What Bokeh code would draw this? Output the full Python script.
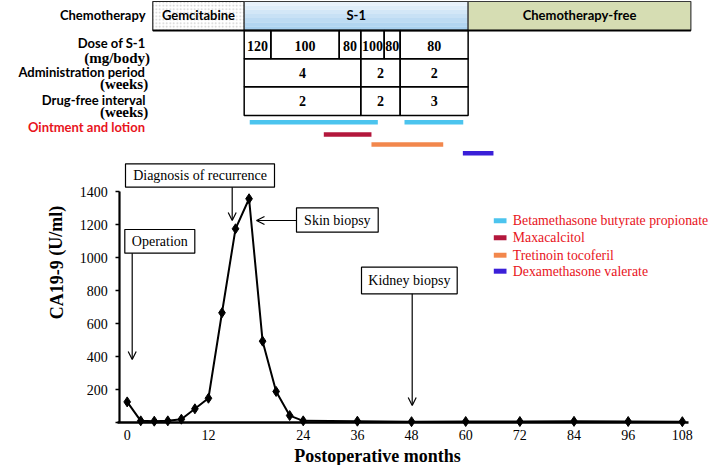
from bokeh.plotting import figure
from bokeh.models import Range1d, FixedTicker, Arrow, OpenHead
from bokeh.core.properties import value
from bokeh.embed import file_html
from bokeh.resources import INLINE

# ---------------- data ----------------
# x positions are slots on the (non-linear) time axis of the original chart
point_pos = [0, 1, 2, 3, 4, 5, 6, 7, 8, 9, 10, 11, 12, 13, 17, 21, 25, 29, 33, 37, 41]
ca199 = [125, 10, 8, 10, 20, 83, 147, 665, 1174, 1356, 493, 188, 42, 10, 8, 5, 6, 6, 7, 6, 5]
x_tick_pos = [0, 6, 13, 17, 21, 25, 29, 33, 37, 41]
x_tick_labels = ["0", "12", "24", "36", "48", "60", "72", "84", "96", "108"]
y_ticks = [0, 200, 400, 600, 800, 1000, 1200, 1400]

chemo_names = ["Gemcitabine", "S-1", "Chemotherapy-free"]
chemo_edges = [1.89, 8.64, 25.18, 41.63]
dose_edges = [8.64, 10.61, 15.66, 17.25, 18.98, 20.16, 25.18]
dose_values = ["120", "100", "80", "100", "80", "80"]
period_edges = [8.64, 17.25, 20.16, 25.18]
admin_weeks = ["4", "2", "2"]
free_weeks = ["2", "2", "3"]

ointments = ["Betamethasone butyrate propionate", "Maxacalcitol",
             "Tretinoin tocoferil", "Dexamethasone valerate"]
oint_colors = ["#4cc4ee", "#b3173c", "#f2874c", "#3a1fd8"]
oint_kind = [0, 0, 1, 2, 3]
oint_start = [9.05, 20.48, 14.52, 18.04, 24.79]
oint_end = [18.51, 24.82, 18.04, 23.34, 27.05]

events = ["Operation", "Diagnosis of recurrence", "Skin biopsy", "Kidney biopsy"]

# ---------------- layout helpers (reference pixel -> data) ----------------
W, H = 709, 465
PX_PER_SLOT = 13.54
X0 = 126.7          # pixel of slot 0
AX_Y = 422.0        # pixel of value 0
PX_PER_UNIT = 33.0 / 200.0


def X(px):
    return (px - X0) / PX_PER_SLOT


def Y(py):
    return (AX_Y - py) / PX_PER_UNIT


SERIF = "Liberation Serif"
SANS = "Lato"

p = figure(width=W, height=H, x_range=Range1d(X(0), X(W)),
           y_range=Range1d(Y(H), Y(0)), output_backend="svg",
           toolbar_location=None, min_border=0, min_border_left=0,
           min_border_right=0, min_border_top=0, min_border_bottom=0)
p.outline_line_color = None
p.grid.visible = False
p.background_fill_color = "white"

# ---------------- axes ----------------
ya = p.yaxis[0]
ya.fixed_location = X(119.3)
ya.ticker = FixedTicker(ticks=y_ticks, minor_ticks=[])
ya.major_label_overrides = {0: ""}
ya.bounds = (0, 1400)
ya.axis_line_width = 2.2
ya.major_tick_out = 4
ya.major_tick_in = 0
ya.major_tick_line_width = 1.5
ya.major_label_standoff = 8
ya.major_label_text_font = SERIF
ya.major_label_text_font_size = "14px"
ya.major_label_text_color = "black"

xa = p.xaxis[0]
xa.fixed_location = 0
xa.ticker = FixedTicker(ticks=x_tick_pos, minor_ticks=[])
xa.major_label_overrides = {t: l for t, l in zip(x_tick_pos, x_tick_labels)}
xa.bounds = (X(117), X(688))
xa.axis_line_width = 2.6
xa.major_tick_out = 0
xa.major_tick_in = 0
xa.major_label_standoff = 7
xa.major_label_text_font = SERIF
xa.major_label_text_font_size = "14px"
xa.major_label_text_color = "black"

p.text(x=[X(377)], y=[Y(455)], text=["Postoperative months"], text_font=value(SERIF),
       text_font_size="18px", text_font_style="bold", text_align="center",
       text_baseline="middle", text_color="black")
p.text(x=[X(56)], y=[Y(262)], text=["CA19-9 (U/ml)"], text_font=value(SERIF),
       text_font_size="18px", text_font_style="bold", text_align="center",
       text_baseline="middle", angle=1.5708, text_color="black")

# ---------------- top table ----------------
r1t, r1b = Y(1), Y(30)
# Gemcitabine (stippled)
p.quad(left=[chemo_edges[0]], right=[chemo_edges[1]], top=[r1t], bottom=[r1b],
       fill_color="white", hatch_pattern="dot", hatch_color="#9a9a9a", hatch_scale=3.5,
       hatch_weight=0.7, hatch_alpha=0.5, line_color="#222222", line_width=1.2)
# S-1 (blue gradient)
s1_colors = ["#e8f2fb", "#deedf9", "#d3e7f7", "#c8e1f5", "#bddbf3", "#b2d5f1", "#a8d0ef"]
n = len(s1_colors)
for i, c in enumerate(s1_colors):
    t = r1t + (r1b - r1t) * i / n
    b = r1t + (r1b - r1t) * (i + 1) / n
    p.quad(left=[chemo_edges[1]], right=[chemo_edges[2]], top=[t], bottom=[b],
           fill_color=c, line_color=None)
p.quad(left=[chemo_edges[1]], right=[chemo_edges[2]], top=[r1t], bottom=[r1b],
       fill_color=None, line_color="#3a3a3a", line_width=1.2)
# Chemotherapy-free
p.quad(left=[chemo_edges[2]], right=[chemo_edges[3]], top=[r1t], bottom=[r1b],
       fill_color="#d6ddb3", line_color="#3a3a3a", line_width=1.2)
p.segment(x0=[chemo_edges[0]], x1=[chemo_edges[3]], y0=[r1b], y1=[r1b],
          line_color="black", line_width=1.8)
p.text(x=[(chemo_edges[i] + chemo_edges[i + 1]) / 2 for i in range(3)],
       y=[Y(14)] * 3, text=chemo_names, text_font=value(SANS), text_font_size="13px",
       text_font_style="bold", text_align="center", text_baseline="middle",
       text_color="black")

# dose row
r2t, r2b = Y(30), Y(58.3)
p.quad(left=dose_edges[:-1], right=dose_edges[1:], top=[r2t] * 6, bottom=[r2b] * 6,
       fill_color=None, line_color="black", line_width=1.5)
p.text(x=[(dose_edges[i] + dose_edges[i + 1]) / 2 for i in range(6)],
       y=[Y(45.5)] * 6, text=dose_values, text_font=value(SERIF), text_font_size="14px",
       text_font_style="bold", text_align="center", text_baseline="middle",
       text_color="black")
# admin + drug-free rows
for (top_py, bot_py, vals) in [(58.3, 86.3, admin_weeks), (86.3, 115, free_weeks)]:
    p.quad(left=period_edges[:-1], right=period_edges[1:], top=[Y(top_py)] * 3,
           bottom=[Y(bot_py)] * 3, fill_color=None, line_color="black", line_width=1.5)
    p.text(x=[(period_edges[i] + period_edges[i + 1]) / 2 for i in range(3)],
           y=[Y((top_py + bot_py) / 2)] * 3, text=vals, text_font=value(SERIF),
           text_font_size="14px", text_font_style="bold", text_align="center",
           text_baseline="middle", text_color="black")

# left row labels
row_labels = [("Chemotherapy", 145, 14, SANS, "black"),
              ("Dose of S-1", 145, 42.5, SANS, "black"),
              ("(mg/body)", 149.5, 57.5, SERIF, "black"),
              ("Administration period", 144.5, 71, SANS, "black"),
              ("(weeks)", 147.7, 83.5, SERIF, "black"),
              ("Drug-free interval", 145, 99, SANS, "black"),
              ("(weeks)", 147.7, 111.7, SERIF, "black"),
              ("Ointment and lotion", 144.5, 126, SANS, "#e8141c")]
for txt, rx, cy, fnt, col in row_labels:
    p.text(x=[X(rx)], y=[Y(cy)], text=[txt], text_font=value(fnt),
           text_font_size="13px" if fnt == SANS else "15px", text_font_style="bold",
           text_align="right", text_baseline="middle", text_color=col)

# ointment bars
bar_rows = [121.7, 134, 144, 152.7]
p.segment(x0=oint_start, x1=oint_end, y0=[Y(bar_rows[k]) for k in oint_kind],
          y1=[Y(bar_rows[k]) for k in oint_kind],
          line_color=[oint_colors[k] for k in oint_kind], line_width=4.5, line_cap="butt")

# legend
leg_rows = [220.3, 237.3, 254.7, 270.7]
p.quad(left=[X(493.3)] * 4, right=[X(506)] * 4, top=[Y(r - 2.5) for r in leg_rows],
       bottom=[Y(r + 2.5) for r in leg_rows], fill_color=oint_colors, line_color=None)
p.text(x=[X(512.3)] * 4, y=[Y(r) for r in leg_rows], text=ointments,
       text_font=value(SERIF), text_font_size="13.8px", text_color="#e8141c",
       text_align="left", text_baseline="middle")

# ---------------- data line ----------------
p.line(point_pos, ca199, line_color="black", line_width=2)
p.scatter(point_pos, ca199, marker="diamond", size=10, fill_color="black",
          line_color="black")

# ---------------- event boxes & arrows ----------------
boxes = [(124.3, 194.3, 229, 252.7), (125, 274, 163.3, 186.7),
         (296, 377.7, 207.3, 231.7), (361, 456.7, 266.7, 293.3)]
p.quad(left=[X(b[0]) for b in boxes], right=[X(b[1]) for b in boxes],
       top=[Y(b[2]) for b in boxes], bottom=[Y(b[3]) for b in boxes],
       fill_color="white", line_color="black", line_width=1.2)
p.text(x=[X((b[0] + b[1]) / 2) for b in boxes], y=[Y((b[2] + b[3]) / 2) for b in boxes],
       text=events, text_font=value(SERIF), text_font_size="14px", text_color="black",
       text_align="center", text_baseline="middle")

arrows = [(131.7, 252.7, 131.7, 359), (231.7, 186.7, 231.7, 220),
          (296, 220, 256, 220), (411.7, 293.3, 411.7, 405)]
for x0, y0, x1, y1 in arrows:
    p.add_layout(Arrow(end=OpenHead(size=8, line_width=1.2, line_color="black"),
                       x_start=X(x0), y_start=Y(y0), x_end=X(x1), y_end=Y(y1),
                       line_width=1.2, line_color="black"))

open("out.html", "w").write(file_html(p, INLINE))
